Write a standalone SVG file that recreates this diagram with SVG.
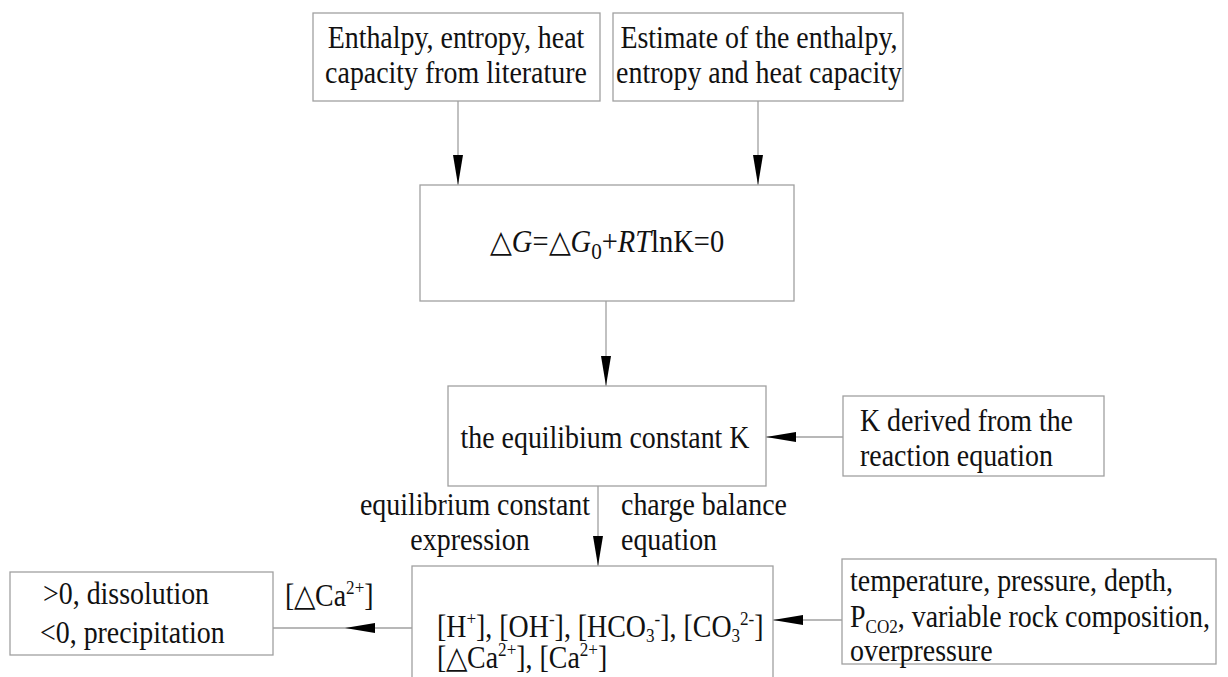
<svg xmlns="http://www.w3.org/2000/svg" width="1228" height="677" viewBox="0 0 1228 677">
<style>
.box{fill:#fff;stroke:#a0a0a0;stroke-width:1.3}
.t{font-family:"Liberation Serif","Times New Roman",serif;font-size:31px;fill:#111}
.c{text-anchor:middle}
.ln{stroke:#a0a0a0;stroke-width:1.3;fill:none}
.i{font-style:italic}
.s{font-size:19px}
</style>
<defs>
<marker id="ah" markerUnits="userSpaceOnUse" markerWidth="32" markerHeight="12" refX="30" refY="5" orient="auto">
<path d="M0,0 L30,5 L0,10 Z" fill="#000"/>
</marker>
</defs>
<rect width="1228" height="677" fill="#fff"/>
<g id="connectors">
<line class="ln" x1="458" y1="101" x2="458" y2="185" marker-end="url(#ah)"/>
<line class="ln" x1="758" y1="101" x2="758" y2="185" marker-end="url(#ah)"/>
<line class="ln" x1="606" y1="301" x2="606" y2="386" marker-end="url(#ah)"/>
<line class="ln" x1="843" y1="437" x2="766" y2="437" marker-end="url(#ah)"/>
<line class="ln" x1="598" y1="486" x2="598" y2="566" marker-end="url(#ah)"/>
<line class="ln" x1="842" y1="620" x2="773" y2="620" marker-end="url(#ah)"/>
<path class="ln" d="M412,628 L345,628 L273,628" marker-mid="url(#ah)"/>
<text class="t c" transform="translate(475,515) scale(0.9,1)">equilibrium constant</text>
<text class="t c" transform="translate(470,550) scale(0.9,1)">expression</text>
<text class="t" transform="translate(621,515) scale(0.9,1)">charge balance</text>
<text class="t" transform="translate(621,550) scale(0.9,1)">equation</text>
<text class="t" transform="translate(285,606) scale(0.9,1)">[△Ca<tspan class="s" dy="-12">2+</tspan><tspan dy="12">]</tspan></text>
</g>
<g id="n1">
<rect class="box" x="313" y="13" width="287" height="88"/>
<text class="t c" transform="translate(456,48) scale(0.9,1)">Enthalpy, entropy, heat</text>
<text class="t c" transform="translate(456,83) scale(0.9,1)">capacity from literature</text>
</g>
<g id="n2">
<rect class="box" x="613" y="13" width="290" height="88"/>
<text class="t c" transform="translate(759,48) scale(0.9,1)">Estimate of the enthalpy,</text>
<text class="t c" transform="translate(759,83) scale(0.9,1)">entropy and heat capacity</text>
</g>
<g id="n3">
<rect class="box" x="420" y="185" width="374" height="116"/>
<text class="t c" transform="translate(607,252) scale(0.92,1)" font-size="35">△<tspan class="i">G</tspan>=△<tspan class="i">G</tspan><tspan dy="7" font-size="23">0</tspan><tspan dy="-7">+</tspan><tspan class="i">RT</tspan>lnK=0</text>
</g>
<g id="n4">
<rect class="box" x="448" y="386" width="318" height="100"/>
<text class="t c" transform="translate(605,448) scale(0.9,1)">the equilibium constant K</text>
</g>
<g id="n5">
<rect class="box" x="843" y="396" width="261" height="80"/>
<text class="t" transform="translate(860,431) scale(0.9,1)">K derived from the</text>
<text class="t" transform="translate(860,466) scale(0.9,1)">reaction equation</text>
</g>
<g id="n6">
<rect class="box" x="412" y="566" width="361" height="123"/>
<text class="t" transform="translate(437,637) scale(0.9,1)">[H<tspan class="s" dy="-12">+</tspan><tspan dy="12">], [OH</tspan><tspan class="s" dy="-12">-</tspan><tspan dy="12">], [HCO</tspan><tspan class="s" dy="5">3</tspan><tspan class="s" dy="-17">-</tspan><tspan dy="12">], [CO</tspan><tspan class="s" dy="5">3</tspan><tspan class="s" dy="-17">2-</tspan><tspan dy="12">]</tspan></text>
<text class="t" transform="translate(437,668) scale(0.9,1)">[△Ca<tspan class="s" dy="-12">2+</tspan><tspan dy="12">], [Ca</tspan><tspan class="s" dy="-12">2+</tspan><tspan dy="12">]</tspan></text>
</g>
<g id="n7">
<rect class="box" x="842" y="559" width="374" height="105"/>
<text class="t" transform="translate(850,591) scale(0.9,1)">temperature, pressure, depth,</text>
<text class="t" transform="translate(850,627) scale(0.9,1)">P<tspan class="s" dy="6">CO2</tspan><tspan dy="-6">, variable rock composition,</tspan></text>
<text class="t" transform="translate(850,661) scale(0.9,1)">overpressure</text>
</g>
<g id="n8">
<rect class="box" x="10" y="572" width="263" height="83"/>
<text class="t" transform="translate(43,604) scale(0.9,1)">&gt;0, dissolution</text>
<text class="t" transform="translate(40,643) scale(0.9,1)">&lt;0, precipitation</text>
</g>
</svg>
